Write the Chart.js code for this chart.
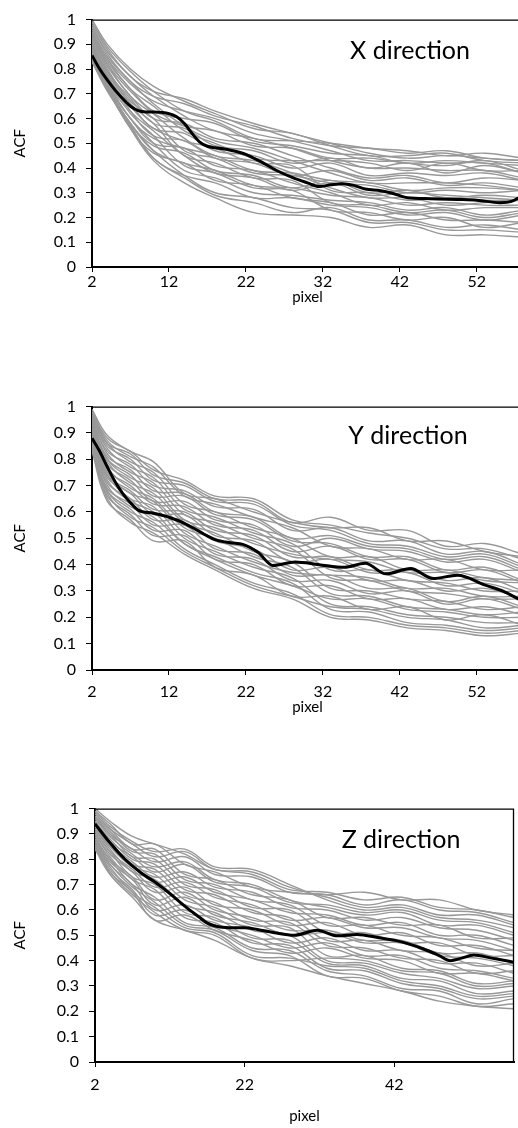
<!DOCTYPE html>
<html><head><meta charset="utf-8">
<script src="https://cdn.jsdelivr.net/npm/chart.js@4.4.0/dist/chart.umd.min.js"></script>
<style>
html,body{margin:0;padding:0;background:#fff;width:518px;height:1128px;overflow:hidden;position:relative;}
.p{position:absolute;left:0;}
canvas{display:block;}
</style></head><body>
<div class="p" style="top:0px"><canvas id="cX" width="530" height="307"></canvas></div>
<div class="p" style="top:387px"><canvas id="cY" width="530" height="330"></canvas></div>
<div class="p" style="top:789px"><canvas id="cZ" width="518" height="337"></canvas></div>
<script>
// ---------- data ----------
const xGrid = [2,4,7,10,14,18,23,28,33,38,43,48,53,58];
const xTicksXY = [2,12,22,32,42,52];
const xTicksZ = [2,22,42];
const yTicks = [0,0.1,0.2,0.3,0.4,0.5,0.6,0.7,0.8,0.9,1];
const yTickLabels = ['0','0.1','0.2','0.3','0.4','0.5','0.6','0.7','0.8','0.9','1'];
const panelTitles = ['X direction','Y direction','Z direction'];
const xAxisTitle = 'pixel';
const yAxisTitle = 'ACF';

const meanXx = [2,3,4,5,6,7,8,9,10,11,12,13,14,15,16,17,18,19,20,21,22,23,24,26,28,30,31.5,33,34.6,36,37.5,39.5,41,43,46,49.5,52,55,56.5,58];
const meanXy = [.855,.80,.755,.715,.68,.65,.632,.627,.627,.625,.62,.607,.58,.54,.505,.488,.482,.478,.472,.465,.455,.44,.425,.39,.362,.34,.325,.332,.337,.33,.315,.308,.298,.28,.276,.273,.27,.26,.265,.29];

const meanYx = [2,3,4,5,6,7,8,10,12,14,16,18,20,21.6,23.6,25.5,28.4,31.5,34.8,37.5,40.2,43.4,46.3,49.5,53,55.6,58];
const meanYy = [.88,.83,.77,.715,.67,.635,.607,.595,.58,.557,.525,.495,.483,.477,.446,.397,.41,.40,.39,.405,.365,.385,.347,.36,.323,.297,.26];

const meanZx = [2,4,6,8,10,12,14,16,17,18.7,20.5,22,23.7,26,28.6,31.7,34.4,37,40,42.4,44,46,48,49.5,51,52.6,55,58];
const meanZy = [.94,.865,.80,.75,.71,.665,.615,.57,.548,.533,.53,.53,.523,.51,.50,.52,.498,.503,.49,.478,.465,.445,.42,.40,.41,.422,.41,.394];

const grayX = [
[1.00,.90,.80,.73,.67,.62,.56,.54,.49,.45,.45,.46,.43,.42],
[.99,.89,.79,.71,.63,.59,.52,.51,.50,.48,.47,.45,.46,.44],
[.98,.88,.77,.71,.68,.63,.58,.54,.50,.46,.44,.45,.44,.43],
[.97,.87,.77,.69,.61,.55,.52,.48,.43,.40,.40,.39,.39,.36],
[.97,.86,.75,.69,.66,.61,.57,.52,.49,.48,.46,.47,.44,.43],
[.96,.85,.75,.66,.57,.51,.48,.43,.38,.34,.34,.34,.33,.31],
[.95,.84,.74,.67,.63,.60,.54,.51,.47,.43,.43,.42,.42,.38],
[.95,.84,.72,.65,.55,.50,.44,.43,.43,.42,.39,.42,.39,.39],
[.94,.83,.72,.63,.60,.58,.51,.49,.46,.45,.42,.43,.42,.41],
[.93,.82,.71,.62,.52,.45,.43,.38,.32,.28,.28,.25,.26,.27],
[.93,.82,.69,.62,.57,.55,.49,.48,.44,.44,.42,.41,.43,.39],
[.92,.81,.69,.60,.58,.52,.50,.45,.40,.36,.37,.34,.36,.35],
[.92,.80,.67,.60,.47,.44,.38,.37,.34,.33,.30,.31,.30,.31],
[.91,.79,.68,.58,.56,.49,.47,.42,.44,.40,.42,.38,.41,.38],
[.90,.79,.66,.58,.45,.42,.36,.35,.26,.25,.22,.23,.20,.22],
[.90,.78,.66,.56,.54,.47,.45,.40,.42,.37,.38,.37,.38,.35],
[.89,.77,.65,.56,.51,.48,.42,.41,.31,.30,.27,.28,.27,.27],
[.89,.77,.63,.55,.45,.38,.36,.31,.34,.29,.30,.29,.28,.27],
[.88,.76,.63,.53,.51,.44,.42,.37,.39,.35,.36,.33,.34,.32],
[.88,.75,.62,.53,.41,.38,.32,.31,.23,.22,.19,.20,.16,.18],
[.87,.75,.60,.52,.48,.45,.39,.38,.35,.34,.31,.32,.32,.31],
[.87,.74,.60,.50,.48,.41,.39,.34,.30,.25,.26,.23,.24,.24],
[.86,.73,.60,.50,.39,.36,.30,.29,.27,.26,.23,.24,.21,.23],
[.86,.73,.58,.49,.46,.39,.37,.32,.35,.30,.31,.28,.29,.28],
[.85,.73,.58,.47,.37,.30,.28,.24,.23,.18,.18,.15,.15,.14],
[.85,.72,.58,.47,.42,.39,.33,.32,.29,.28,.25,.26,.25,.25],
[.84,.72,.56,.46,.42,.35,.33,.28,.26,.21,.22,.19,.19,.18],
[.84,.72,.57,.44,.36,.29,.26,.22,.24,.19,.19,.16,.17,.15],
[.83,.71,.57,.44,.37,.34,.28,.28,.25,.24,.21,.22,.19,.21],
[.83,.72,.56,.43,.34,.28,.22,.21,.20,.16,.17,.13,.13,.12]
];

const grayY = [
[.98,.88,.83,.76,.72,.66,.65,.57,.55,.52,.50,.46,.46,.42],
[.99,.89,.83,.79,.67,.65,.60,.56,.54,.54,.49,.49,.45,.43],
[.97,.86,.82,.74,.71,.65,.64,.56,.58,.53,.53,.47,.48,.44],
[.98,.87,.81,.77,.66,.63,.58,.54,.47,.46,.42,.42,.38,.38],
[.96,.85,.80,.72,.70,.64,.63,.55,.53,.48,.47,.43,.44,.39],
[.97,.86,.79,.75,.63,.60,.54,.50,.43,.43,.38,.38,.35,.34],
[.95,.83,.78,.70,.68,.62,.61,.53,.54,.49,.49,.44,.45,.40],
[.96,.84,.77,.73,.61,.58,.52,.48,.38,.38,.34,.33,.30,.30],
[.94,.81,.76,.68,.67,.60,.58,.50,.51,.47,.46,.42,.43,.38],
[.95,.82,.75,.71,.59,.56,.50,.46,.35,.34,.30,.29,.27,.27],
[.93,.80,.74,.66,.66,.59,.57,.49,.48,.43,.43,.38,.39,.34],
[.94,.80,.73,.69,.57,.54,.48,.44,.42,.41,.37,.37,.34,.33],
[.92,.78,.72,.64,.64,.57,.55,.47,.50,.46,.45,.41,.42,.37],
[.92,.79,.71,.67,.56,.52,.45,.41,.31,.30,.27,.26,.23,.24],
[.91,.76,.70,.63,.62,.55,.53,.45,.47,.42,.42,.37,.38,.33],
[.91,.77,.69,.65,.54,.50,.43,.39,.29,.28,.24,.23,.21,.22],
[.90,.74,.68,.61,.60,.53,.51,.43,.43,.38,.38,.34,.35,.30],
[.90,.75,.67,.64,.52,.47,.41,.37,.36,.35,.31,.31,.28,.28],
[.89,.73,.67,.59,.59,.51,.49,.41,.42,.37,.37,.32,.33,.29],
[.89,.74,.65,.62,.50,.45,.39,.35,.25,.24,.21,.20,.18,.18],
[.88,.71,.65,.57,.57,.49,.46,.38,.39,.34,.34,.30,.31,.27],
[.88,.72,.64,.60,.48,.43,.37,.33,.23,.22,.18,.17,.15,.16],
[.86,.69,.63,.55,.55,.46,.44,.36,.36,.31,.31,.26,.28,.24],
[.87,.70,.62,.58,.48,.42,.36,.32,.27,.27,.23,.22,.20,.20],
[.85,.68,.61,.53,.53,.44,.42,.34,.34,.29,.30,.25,.27,.23],
[.86,.68,.60,.56,.46,.40,.33,.29,.21,.20,.17,.16,.14,.15],
[.84,.66,.59,.51,.51,.42,.40,.32,.32,.27,.27,.23,.24,.21],
[.85,.67,.58,.54,.45,.39,.32,.28,.24,.23,.20,.19,.16,.17],
[.83,.64,.57,.49,.49,.39,.36,.28,.28,.23,.24,.19,.21,.17],
[.84,.65,.56,.52,.44,.38,.31,.27,.20,.19,.16,.15,.13,.14]
];

const grayZ = [
[1.00,.95,.89,.86,.82,.76,.74,.68,.67,.64,.65,.61,.60,.57],
[.99,.93,.87,.83,.84,.77,.76,.70,.64,.60,.61,.57,.56,.53],
[.99,.94,.86,.86,.78,.75,.69,.67,.66,.67,.64,.64,.60,.58],
[.98,.92,.86,.81,.83,.76,.75,.69,.65,.61,.62,.58,.58,.54],
[.98,.92,.84,.84,.74,.72,.66,.64,.57,.57,.54,.54,.49,.49],
[.97,.90,.84,.79,.81,.74,.73,.67,.66,.62,.64,.60,.59,.55],
[.97,.91,.83,.82,.72,.70,.64,.62,.54,.54,.50,.49,.45,.44],
[.96,.89,.82,.77,.79,.72,.70,.64,.61,.58,.59,.54,.54,.50],
[.96,.90,.81,.80,.70,.68,.61,.60,.51,.51,.47,.47,.42,.42],
[.95,.87,.81,.75,.78,.71,.69,.63,.62,.59,.60,.56,.55,.51],
[.95,.88,.80,.78,.68,.66,.59,.57,.48,.48,.44,.43,.38,.39],
[.93,.86,.79,.73,.75,.69,.67,.61,.60,.56,.57,.53,.52,.48],
[.94,.87,.78,.76,.66,.63,.56,.55,.46,.45,.41,.40,.35,.36],
[.92,.85,.78,.71,.73,.67,.64,.59,.58,.54,.55,.50,.50,.46],
[.93,.85,.77,.74,.64,.61,.54,.53,.42,.42,.37,.36,.31,.32],
[.91,.83,.76,.69,.71,.65,.62,.56,.57,.53,.53,.49,.48,.44],
[.92,.84,.75,.72,.62,.59,.52,.50,.40,.39,.35,.33,.29,.30],
[.90,.82,.75,.67,.69,.62,.60,.54,.55,.50,.51,.46,.46,.42],
[.91,.83,.73,.70,.59,.57,.49,.48,.39,.38,.33,.32,.27,.28],
[.89,.80,.73,.64,.67,.60,.57,.52,.52,.48,.48,.43,.43,.39],
[.90,.81,.72,.68,.57,.55,.47,.46,.37,.36,.31,.29,.25,.26],
[.88,.79,.72,.62,.65,.58,.55,.50,.51,.47,.47,.42,.41,.38],
[.88,.80,.70,.65,.55,.53,.45,.44,.36,.34,.29,.28,.23,.25],
[.87,.78,.70,.60,.62,.56,.53,.47,.49,.44,.44,.39,.39,.35],
[.87,.78,.69,.63,.54,.52,.44,.42,.34,.33,.28,.26,.22,.23],
[.86,.76,.68,.58,.60,.54,.50,.45,.47,.42,.42,.37,.36,.33],
[.86,.77,.67,.61,.53,.51,.42,.41,.38,.37,.32,.30,.26,.27],
[.85,.75,.67,.56,.58,.52,.48,.43,.45,.41,.40,.35,.35,.32],
[.85,.75,.66,.59,.52,.50,.41,.40,.41,.40,.36,.35,.30,.31],
[.84,.74,.65,.56,.52,.48,.41,.38,.34,.31,.28,.24,.22,.21]
];

// ---------- chart building ----------
const FONT = 'Lato';
const TICK_SIZE = 16;
const framePlugin = {
  id: 'frame',
  afterDatasetsDraw(chart, args, o) {
    const {ctx, chartArea: a} = chart;
    ctx.save();
    ctx.strokeStyle = '#000';
    ctx.lineWidth = 1.3;
    ctx.beginPath();
    ctx.moveTo(a.left, a.top + 0.5); ctx.lineTo(a.right, a.top + 0.5);
    ctx.moveTo(a.right - 0.5, a.top); ctx.lineTo(a.right - 0.5, a.bottom);
    ctx.stroke();
    ctx.font = '25px ' + FONT;
    ctx.fillStyle = '#000';
    ctx.textAlign = 'center';
    ctx.textBaseline = 'alphabetic';
    ctx.fillText(o.text, a.left + o.dx, a.top + o.dy);
    ctx.restore();
  }
};

function makeChart(id, gray, mx, my, xTicks, title, cfg) {
  const datasets = [{
    data: mx.map((x, i) => ({x: x, y: my[i]})),
    borderColor: '#000', borderWidth: 3, pointRadius: 0,
    cubicInterpolationMode: 'monotone', fill: false
  }];
  gray.forEach(row => datasets.push({
    data: xGrid.map((x, i) => ({x: x, y: row[i]})),
    borderColor: 'rgb(152,152,152)', borderWidth: 1.4, pointRadius: 0,
    tension: 0.4, fill: false
  }));
  return new Chart(document.getElementById(id), {
    type: 'line',
    data: {datasets},
    plugins: [framePlugin],
    options: {
      responsive: false, animation: false, devicePixelRatio: 1,
      layout: {padding: {top: 14, right: cfg.padRight, left: 0, bottom: 0}},
      plugins: {legend: {display: false}, tooltip: {enabled: false},
        frame: {text: title, dx: cfg.dx, dy: cfg.dy}},
      scales: {
        x: {
          type: 'linear', min: 2, max: 58,
          afterBuildTicks: s => { s.ticks = xTicks.map(v => ({value: v})); },
          afterFit: s => { s.height = cfg.xHeight; },
          ticks: {color: '#000', font: {family: FONT, size: TICK_SIZE}, padding: cfg.tickPad, maxRotation: 0, autoSkip: false},
          grid: {drawOnChartArea: false, tickLength: 5, color: '#000', lineWidth: 1},
          border: {display: true, color: '#000', width: 2},
          title: {display: true, text: xAxisTitle, color: '#000', font: {family: FONT, size: 15}, padding: {top: 0, bottom: 1}}
        },
        y: {
          type: 'linear', min: 0, max: 1,
          afterBuildTicks: s => { s.ticks = yTicks.map(v => ({value: v})); },
          afterFit: s => { s.width = cfg.yWidth; },
          ticks: {color: '#000', font: {family: FONT, size: TICK_SIZE}, padding: 10,
            callback: (v, i) => yTickLabels[i]},
          grid: {drawOnChartArea: false, tickLength: 6, color: '#000', lineWidth: 1},
          border: {display: true, color: '#000', width: 2},
          title: {display: true, text: yAxisTitle, color: '#000', font: {family: FONT, size: 15}, padding: {top: 11, bottom: 0}}
        }
      }
    }
  });
}

function drawAll() {
  makeChart('cX', grayX, meanXx, meanXy, xTicksXY, panelTitles[0],
    {padRight: 7, xHeight: 40, tickPad: 0, yWidth: 92, dx: 318, dy: 39});
  makeChart('cY', grayY, meanYx, meanYy, xTicksXY, panelTitles[1],
    {padRight: 7, xHeight: 47, tickPad: 7, yWidth: 92, dx: 316, dy: 37});
  makeChart('cZ', grayZ, meanZx, meanZy, xTicksZ, panelTitles[2],
    {padRight: 4, xHeight: 64, tickPad: 8, yWidth: 95, dx: 306, dy: 39});
}
if (document.fonts && document.fonts.load) {
  Promise.all([document.fonts.load('16px Lato'), document.fonts.load('25px Lato')]).then(drawAll, drawAll);
} else { drawAll(); }
</script>
</body></html>
